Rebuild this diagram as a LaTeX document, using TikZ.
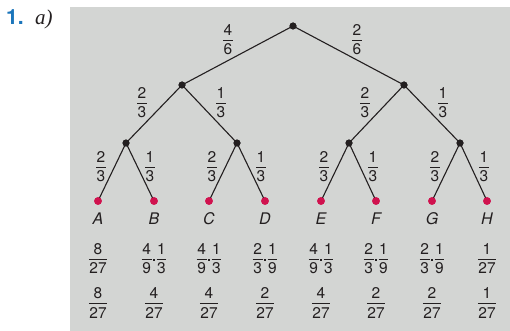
\documentclass[tikz,border=0pt]{standalone}
\usepackage{fontspec}
\setmainfont{TeX Gyre Heros}
\newfontfamily\serifit{Liberation Serif}
\definecolor{bg}{RGB}{211,213,211}
\definecolor{ink}{RGB}{35,31,32}
\definecolor{leafred}{RGB}{208,18,78}
\definecolor{numblue}{RGB}{27,117,187}
\setlength\arrayrulewidth{0.7pt}
\newcommand\fr[2]{\begin{tabular}[c]{@{\hspace{0.6pt}}c@{\hspace{0.6pt}}}#1\\[-1pt]\hline\rule{0pt}{14.3pt}#2\end{tabular}}
\newcommand\prd[4]{\fr{#1}{#2}\makebox[5pt]{\raisebox{3.3pt}{\rule{1.8pt}{1.8pt}}}\fr{#3}{#4}}
\begin{document}
\begin{tikzpicture}[x=1pt,y=-1pt,
  bdot/.style={circle,fill=ink,inner sep=0pt,minimum size=7pt},
  rdot/.style={circle,fill=leafred,inner sep=0pt,minimum size=7.6pt},
  lab/.style={inner sep=0pt,text=ink,font=\fontsize{15.5}{18.5}\selectfont},
  leaflab/.style={inner sep=0pt,text=ink,font=\fontsize{16}{19}\selectfont\itshape},
  edge/.style={draw=ink,line width=1.1pt}]
\useasboundingbox (0,0) rectangle (510,331);
\fill[bg] (70,7) rectangle (510,331);
\node[anchor=base west,inner sep=0pt,text=numblue,font=\bfseries\fontsize{21}{24}\selectfont] (num) at (6,25) {1.};
\node[anchor=base west,inner sep=0pt,text=ink,font=\serifit\itshape\fontsize{21}{24}\selectfont] (part) at (35,25) {a)};
% tree nodes
\node[bdot] (r) at (293,26) {};
\node[bdot] (n1) at (182,85) {};
\node[bdot] (n2) at (404,85) {};
\node[bdot] (n11) at (126,143) {};
\node[bdot] (n12) at (237,143) {};
\node[bdot] (n21) at (349,143) {};
\node[bdot] (n22) at (460,143) {};
\foreach \n/\x in {A/98,B/154,C/209,D/265,E/321,F/376,G/432,H/487}{
  \node[rdot] (\n) at (\x,201) {};
}
% edges
\draw[edge] (r.center) -- (n1.center);
\draw[edge] (r.center) -- (n2.center);
\draw[edge] (n1.center) -- (n11.center);
\draw[edge] (n1.center) -- (n12.center);
\draw[edge] (n2.center) -- (n21.center);
\draw[edge] (n2.center) -- (n22.center);
\draw[edge] (n11.center) -- (A.center);
\draw[edge] (n11.center) -- (B.center);
\draw[edge] (n12.center) -- (C.center);
\draw[edge] (n12.center) -- (D.center);
\draw[edge] (n21.center) -- (E.center);
\draw[edge] (n21.center) -- (F.center);
\draw[edge] (n22.center) -- (G.center);
\draw[edge] (n22.center) -- (H.center);
% redraw dots on top
\foreach \n in {r,n1,n2,n11,n12,n21,n22}{\fill[ink] (\n.center) circle (3.5pt);}
\foreach \n in {A,B,C,D,E,F,G,H}{\fill[leafred] (\n.center) circle (3.8pt);}
% edge labels
\node[lab] (e1) at (228,41.2) {\fr{4}{6}};
\node[lab] (e2) at (357,41.2) {\fr{2}{6}};
\node[lab] (e11) at (142,104.2) {\fr{2}{3}};
\node[lab] (e12) at (221,104.2) {\fr{1}{3}};
\node[lab] (e21) at (365,104.2) {\fr{2}{3}};
\node[lab] (e22) at (443,104.2) {\fr{1}{3}};
\foreach \p/\x in {n11/126,n12/237,n21/349,n22/460}{
  \node[lab] (\p a) at (\x-25,168.2) {\fr{2}{3}};
  \node[lab] (\p b) at (\x+24,168.2) {\fr{1}{3}};
}
% leaf letters
\foreach \n/\x in {A/98,B/154,C/209,D/265,E/321,F/376,G/432,H/487}{
  \node[leaflab] (t\n) at (\x,218.5) {\n};
}
% probabilities row 1
\node[lab] (pA) at (98,260.5) {\fr{8}{27}};
\node[lab] (pB) at (154,260.5) {\prd{4}{9}{1}{3}};
\node[lab] (pC) at (209,260.5) {\prd{4}{9}{1}{3}};
\node[lab] (pD) at (265,260.5) {\prd{2}{3}{1}{9}};
\node[lab] (pE) at (321,260.5) {\prd{4}{9}{1}{3}};
\node[lab] (pF) at (376,260.5) {\prd{2}{3}{1}{9}};
\node[lab] (pG) at (432,260.5) {\prd{2}{3}{1}{9}};
\node[lab] (pH) at (487,260.5) {\fr{1}{27}};
% probabilities row 2
\node[lab] (qA) at (98,305) {\fr{8}{27}};
\node[lab] (qB) at (154,305) {\fr{4}{27}};
\node[lab] (qC) at (209,305) {\fr{4}{27}};
\node[lab] (qD) at (265,305) {\fr{2}{27}};
\node[lab] (qE) at (321,305) {\fr{4}{27}};
\node[lab] (qF) at (376,305) {\fr{2}{27}};
\node[lab] (qG) at (432,305) {\fr{2}{27}};
\node[lab] (qH) at (487,305) {\fr{1}{27}};
\end{tikzpicture}
\end{document}
